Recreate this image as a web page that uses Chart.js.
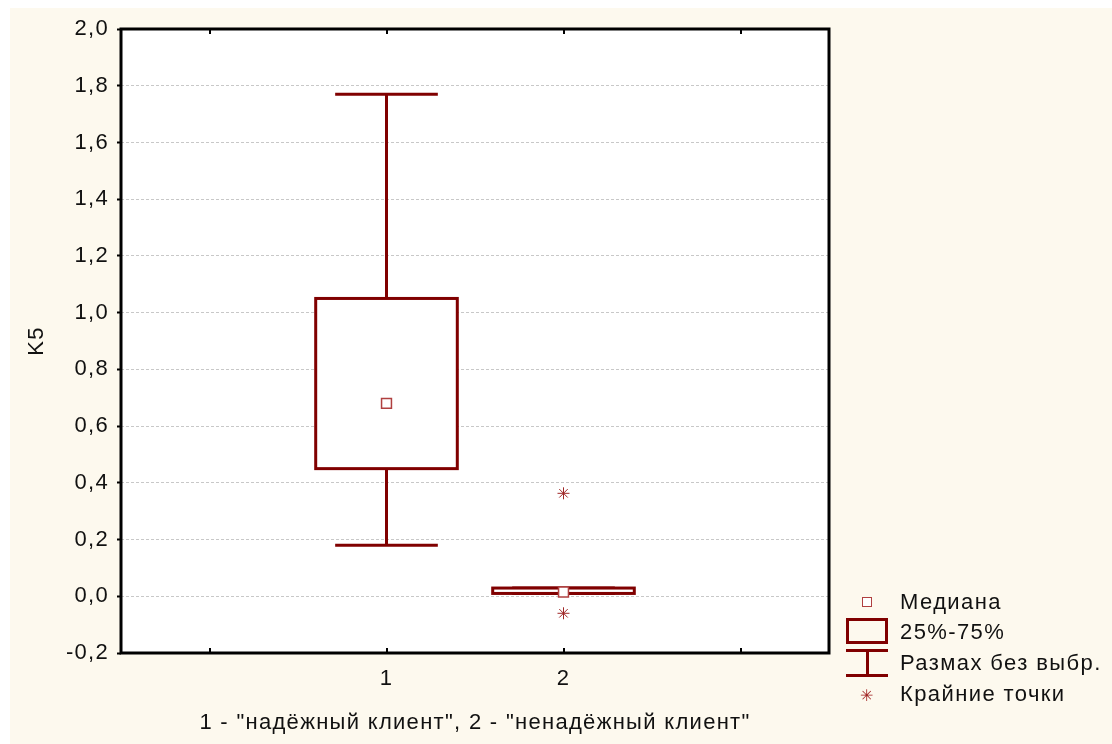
<!DOCTYPE html>
<html>
<head>
<meta charset="utf-8">
<script src="https://cdn.jsdelivr.net/npm/chart.js@4/dist/chart.umd.min.js"></script>
<style>
  body { margin: 0; background: #fff; font-family: "Liberation Sans", Arial, sans-serif; }
  #wrap { position: relative; width: 1112px; height: 744px; }
  #c { position: absolute; left: 0; top: 0; }
  .lg { position: absolute; font-size: 22px; color: #111; line-height: 22px; letter-spacing: 1.4px; white-space: nowrap; }
  .mk { position: absolute; box-sizing: border-box; }
</style>
</head>
<body>
<div id="wrap">
  <canvas id="c" width="1112" height="744"></canvas>
  <!-- legend -->
  <div class="mk" style="left:862px;top:597px;width:10px;height:10px;border:1.5px solid #b04040;background:#fff"></div>
  <div class="lg" style="left:900px;top:591px">Медиана</div>
  <div class="mk" style="left:846px;top:618px;width:42px;height:26px;border:3px solid #800000;background:#fdf9ee"></div>
  <div class="lg" style="left:900px;top:621px">25%-75%</div>
  <div class="mk" style="left:846px;top:649px;width:42px;height:3px;background:#800000"></div>
  <div class="mk" style="left:866px;top:650px;width:3px;height:25px;background:#800000"></div>
  <div class="mk" style="left:846px;top:674px;width:42px;height:3px;background:#800000"></div>
  <div class="lg" style="left:900px;top:652px">Размах без выбр.</div>
  <div class="lg" style="left:860px;top:685px;font-size:16px;letter-spacing:0;color:#a02020">✳</div>
  <div class="lg" style="left:900px;top:683px">Крайние точки</div>
</div>
<script>
const groups = [1, 2];
const q1 = [0.45, 0.01];
const q3 = [1.05, 0.029];
const medians = [0.68, 0.015];
const whiskerLow = [0.18, 0.01];
const whiskerHigh = [1.77, 0.029];
const outlierX = [2, 2];
const outlierY = [0.363, -0.06];
const xTicks = [1, 2];
const yTicks = [-0.2, 0, 0.2, 0.4, 0.6, 0.8, 1.0, 1.2, 1.4, 1.6, 1.8, 2.0];

const DARK = '#800000';
const FONT = "'Liberation Sans', Arial, sans-serif";

const boxPlugin = {
    id: 'boxes',
    beforeDraw(chart) {
        const c = chart.ctx, a = chart.chartArea;
        c.save();
        c.fillStyle = '#fdf9ee';
        c.fillRect(10, 8, chart.width - 10, chart.height - 8);
        c.fillStyle = '#fff';
        c.fillRect(a.left, a.top, a.right - a.left, a.bottom - a.top);
        c.restore();
        // the original text is spaced a bit wider than plain Arial
        c.letterSpacing = '1.3px';
    },
    beforeDatasetsDraw(chart) {
        const c = chart.ctx, x = chart.scales.x, y = chart.scales.y;
        c.save();
        c.strokeStyle = DARK;
        c.lineWidth = 3;
        groups.forEach((g, i) => {
            const cx = x.getPixelForValue(g);
            const bl = x.getPixelForValue(g - 0.4), br = x.getPixelForValue(g + 0.4);
            const wl = x.getPixelForValue(g - 0.29), wr = x.getPixelForValue(g + 0.29);
            const yl = y.getPixelForValue(q1[i]), yh = y.getPixelForValue(q3[i]);
            const wlo = y.getPixelForValue(whiskerLow[i]), whi = y.getPixelForValue(whiskerHigh[i]);
            // whiskers
            c.beginPath();
            c.moveTo(cx, yh); c.lineTo(cx, whi);
            c.moveTo(wl, whi); c.lineTo(wr, whi);
            c.moveTo(cx, yl); c.lineTo(cx, wlo);
            c.moveTo(wl, wlo); c.lineTo(wr, wlo);
            c.stroke();
            // box
            c.fillStyle = '#fff';
            c.fillRect(bl, yh, br - bl, yl - yh);
            c.strokeRect(bl, yh, br - bl, yl - yh);
        });
        c.restore();
    },
    afterDatasetsDraw(chart) {
        const c = chart.ctx, a = chart.chartArea, x = chart.scales.x;
        c.save();
        c.strokeStyle = '#000';
        c.lineWidth = 3;
        c.strokeRect(a.left, a.top, a.right - a.left, a.bottom - a.top);
        c.lineWidth = 2;
        c.beginPath();
        [0, 1, 2, 3].forEach(v => {
            const px = Math.round(x.getPixelForValue(v));
            c.moveTo(px, a.bottom); c.lineTo(px, a.bottom - 5);
            c.moveTo(px, a.top); c.lineTo(px, a.top + 5);
        });
        c.stroke();
        c.restore();
    }
};

new Chart(document.getElementById('c'), {
    type: 'scatter',
    data: {
        datasets: [{
            label: 'Медиана',
            data: groups.map((g, i) => ({ x: g, y: medians[i] })),
            pointStyle: 'rect',
            pointRadius: 7,
            backgroundColor: '#fff',
            borderColor: '#b04040',
            borderWidth: 1.5
        }, {
            label: 'Крайние точки',
            data: outlierX.map((g, i) => ({ x: g, y: outlierY[i] })),
            pointStyle: 'star',
            pointRadius: 6,
            borderColor: '#a02828',
            borderWidth: 1
        }]
    },
    options: {
        responsive: false,
        animation: false,
        layout: { padding: { left: 0, top: 29, right: 283, bottom: 0 } },
        plugins: { legend: { display: false }, tooltip: { enabled: false } },
        scales: {
            x: {
                type: 'linear',
                min: -0.5,
                max: 3.5,
                afterBuildTicks: s => { s.ticks = xTicks.map(v => ({ value: v })); },
                afterFit: s => { s.height = 91; },
                grid: { display: false, drawTicks: false },
                border: { display: false },
                ticks: { color: '#111', padding: 13, font: { family: FONT, size: 22 }, callback: v => String(v) },
                title: {
                    display: true,
                    text: '1 - "надёжный клиент", 2 - "ненадёжный клиент"',
                    color: '#111',
                    font: { family: FONT, size: 22 },
                    padding: { top: 0, bottom: 8 }
                }
            },
            y: {
                min: -0.2,
                max: 2.0,
                afterBuildTicks: s => { s.ticks = yTicks.map(v => ({ value: v })); },
                afterFit: s => { s.width = 121; },
                grid: { color: '#c8c8c8', lineWidth: 1, tickColor: '#000', tickLength: 4, tickWidth: 2 },
                border: { display: false, dash: [3, 2] },
                ticks: {
                    color: '#111',
                    padding: 8,
                    font: { family: FONT, size: 22 },
                    callback: v => v.toFixed(1).replace('.', ',')
                },
                title: {
                    display: true,
                    text: 'K5',
                    color: '#111',
                    font: { family: FONT, size: 22 },
                    padding: { top: 24, bottom: 0 }
                }
            }
        }
    },
    plugins: [boxPlugin]
});
</script>
</body>
</html>
